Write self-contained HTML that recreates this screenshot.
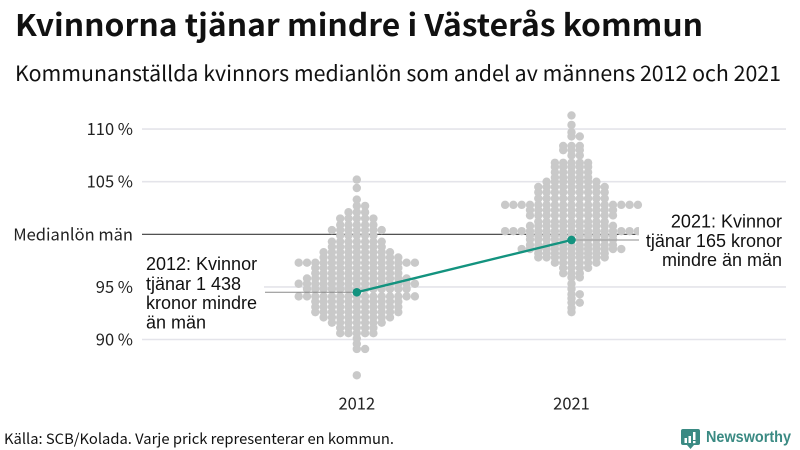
<!DOCTYPE html>
<html lang="sv">
<head>
<meta charset="utf-8">
<title>Kvinnorna tjänar mindre i Västerås kommun</title>
<style>
html,body{margin:0;padding:0;background:#fff;}
#chart{display:block;width:800px;height:450px;}
text{font-family:"Noto Sans CJK JP","Liberation Sans",sans-serif;}
text.ann{font-family:"Liberation Sans",sans-serif;font-size:18px;fill:#111;}
</style>
</head>
<body>
<svg id="chart" xmlns="http://www.w3.org/2000/svg" width="800" height="450" viewBox="0 0 800 450">
  <text x="15" y="36" font-size="30" font-weight="700" fill="#111" textLength="688" lengthAdjust="spacingAndGlyphs">Kvinnorna tjänar mindre i Västerås kommun</text>
  <text x="15" y="81" font-size="21" fill="#111" textLength="766" lengthAdjust="spacingAndGlyphs">Kommunanställda kvinnors medianlön som andel av männens 2012 och 2021</text>
  <g id="grid"></g>
  <g id="ylabels"></g>
  <g id="xlabels"></g>
  <g id="swarm"></g>
  <rect x="142" y="250" width="122" height="86" fill="#fff"/>
  <rect x="639" y="212" width="147" height="58" fill="#fff"/>
  <g id="median"></g>
  <text class="ann"><tspan x="146" y="270">2012: Kvinnor</tspan><tspan x="146" y="290">tjänar 1 438</tspan><tspan x="146" y="309">kronor mindre</tspan><tspan x="146" y="328.5">än män</tspan></text>
  <text class="ann" text-anchor="end"><tspan x="782" y="227.5">2021: Kvinnor</tspan><tspan x="782" y="247">tjänar 165 kronor</tspan><tspan x="782" y="266">mindre än män</tspan></text>
  <text x="4" y="444" font-size="14.5" fill="#111" textLength="390" lengthAdjust="spacingAndGlyphs">Källa: SCB/Kolada. Varje prick representerar en kommun.</text>
  <g>
    <path d="M683 429h15a2 2 0 0 1 2 2v12a2 2 0 0 1-2 2h-4l-3.500 4-3.500-4h-4a2 2 0 0 1-2-2v-12a2 2 0 0 1 2-2z" fill="#3a8a83"/>
    <rect x="684.500" y="438" width="2.500" height="5" fill="#fff"/>
    <rect x="688.500" y="436" width="2.500" height="7" fill="#fff"/>
    <rect x="693" y="432" width="2.500" height="8" fill="#fff"/>
    <rect x="693" y="441" width="2.500" height="2.200" fill="#fff"/>
    <text x="706" y="442" font-size="15.500" font-weight="700" fill="#3a8a83" style="font-family:'Liberation Sans',sans-serif" textLength="85" lengthAdjust="spacingAndGlyphs">Newsworthy</text>
  </g>
</svg>
<script>
var tickValues = [110, 105, 100, 95, 90];
var tickLabels = ["110 %", "105 %", "Medianlön män", "95 %", "90 %"];
var categories = ["2012", "2021"];
var medians = [94.49, 99.46];
var values2012 = [
  105.2, 104.4, 103.3,
  102.7, 102.7,
  102.1, 102.1, 102.1,
  101.5, 101.5, 101.5, 101.5, 101.5,
  100.9, 100.9, 100.9, 100.9, 100.9,
  100.4, 100.4, 100.4, 100.4, 100.4, 100.4, 100.4,
  99.9, 99.9, 99.9, 99.9, 99.9,
  99.3, 99.3, 99.3, 99.3, 99.3, 99.3, 99.3,
  98.8, 98.8, 98.8, 98.8, 98.8, 98.8, 98.8,
  98.3, 98.3, 98.3, 98.3, 98.3, 98.3, 98.3, 98.3, 98.3,
  97.8, 97.8, 97.8, 97.8, 97.8, 97.8, 97.8, 97.8, 97.8, 97.8,
  97.3, 97.3, 97.3, 97.3, 97.3, 97.3, 97.3, 97.3, 97.3, 97.3, 97.3, 97.3, 97.3, 97.3, 97.3,
  96.8, 96.8, 96.8, 96.8, 96.8, 96.8, 96.8, 96.8, 96.8, 96.8, 96.8,
  96.3, 96.3, 96.3, 96.3, 96.3, 96.3, 96.3, 96.3, 96.3, 96.3, 96.3,
  95.8, 95.8, 95.8, 95.8, 95.8, 95.8, 95.8, 95.8, 95.8, 95.8, 95.8, 95.8, 95.8,
  95.3, 95.3, 95.3, 95.3, 95.3, 95.3, 95.3, 95.3, 95.3, 95.3, 95.3, 95.3, 95.3, 95.3, 95.3,
  94.8, 94.8, 94.8, 94.8, 94.8, 94.8, 94.8, 94.8, 94.8, 94.8, 94.8, 94.8, 94.8,
  94.1, 94.1, 94.1, 94.1, 94.1, 94.1, 94.1, 94.1, 94.1, 94.1, 94.1, 94.1, 94.1, 94.1, 94.1,
  93.6, 93.6, 93.6, 93.6, 93.6, 93.6, 93.6, 93.6, 93.6, 93.6, 93.6,
  93.1, 93.1, 93.1, 93.1, 93.1, 93.1, 93.1, 93.1, 93.1, 93.1, 93.1,
  92.6, 92.6, 92.6, 92.6, 92.6, 92.6, 92.6, 92.6, 92.6, 92.6, 92.6,
  92.1, 92.1, 92.1, 92.1, 92.1, 92.1, 92.1, 92.1, 92.1,
  91.6, 91.6, 91.6, 91.6, 91.6, 91.6, 91.6,
  91.1, 91.1, 91.1, 91.1, 91.1,
  90.6, 90.6, 90.6, 90.6, 90.6,
  90.1, 89.6,
  89.1, 89.1,
  86.6
];
var values2021 = [
  111.3, 110.4, 109.7,
  109.3, 109.3,
  108.4, 108.4, 108.4,
  108.0, 108.0, 108.0,
  107.5, 107.5,
  106.8, 106.8, 106.8, 106.8, 106.8,
  106.4, 106.4, 106.4, 106.4, 106.4,
  105.9, 105.9, 105.9, 105.9, 105.9,
  105.4, 105.4, 105.4, 105.4, 105.4,
  105.0, 105.0, 105.0, 105.0, 105.0, 105.0, 105.0,
  104.5, 104.5, 104.5, 104.5, 104.5, 104.5, 104.5, 104.5, 104.5,
  104.0, 104.0, 104.0, 104.0, 104.0, 104.0, 104.0, 104.0, 104.0,
  103.4, 103.4, 103.4, 103.4, 103.4, 103.4, 103.4, 103.4, 103.4,
  102.8, 102.8, 102.8, 102.8, 102.8, 102.8, 102.8, 102.8, 102.8, 102.8, 102.8, 102.8, 102.8, 102.8, 102.8, 102.8, 102.8,
  102.3, 102.3, 102.3, 102.3, 102.3, 102.3, 102.3, 102.3, 102.3, 102.3, 102.3,
  101.8, 101.8, 101.8, 101.8, 101.8, 101.8, 101.8, 101.8, 101.8, 101.8, 101.8,
  101.2, 101.2, 101.2, 101.2, 101.2, 101.2, 101.2, 101.2, 101.2,
  100.8, 100.8, 100.8, 100.8, 100.8, 100.8, 100.8, 100.8, 100.8, 100.8, 100.8,
  100.3, 100.3, 100.3, 100.3, 100.3, 100.3, 100.3, 100.3, 100.3, 100.3, 100.3, 100.3, 100.3, 100.3, 100.3, 100.3, 100.3,
  99.9, 99.9, 99.9, 99.9, 99.9, 99.9, 99.9, 99.9, 99.9, 99.9, 99.9,
  99.5, 99.5, 99.5, 99.5, 99.5, 99.5, 99.5, 99.5, 99.5, 99.5, 99.5,
  99.0, 99.0, 99.0, 99.0, 99.0, 99.0, 99.0, 99.0, 99.0, 99.0, 99.0,
  98.6, 98.6, 98.6, 98.6, 98.6, 98.6, 98.6, 98.6, 98.6, 98.6, 98.6, 98.6, 98.6,
  98.2, 98.2, 98.2, 98.2, 98.2, 98.2, 98.2, 98.2, 98.2,
  97.8, 97.8, 97.8, 97.8, 97.8, 97.8, 97.8, 97.8, 97.8,
  97.3, 97.3, 97.3, 97.3, 97.3, 97.3,
  96.8, 96.8, 96.8, 96.8,
  96.3, 96.3, 96.3,
  95.9, 95.9,
  95.3, 94.8,
  94.3, 94.3,
  93.9,
  93.5, 93.5,
  93.0, 92.6
];

var SVG_NS = "http://www.w3.org/2000/svg";
var PLOT_LEFT = 142, PLOT_RIGHT = 786;
var DOT_R = 4.2, COL_STEP = 8.3, MIN_GAP = 3.4;

function yScale(v) { return 234.3 - (v - 100) * 10.52; }
function xScale(i) { return 356.8 + i * 214.7; }
function make(tag, attrs) {
  var el = document.createElementNS(SVG_NS, tag);
  for (var k in attrs) { el.setAttribute(k, attrs[k]); }
  return el;
}

var gridG = document.getElementById("grid");
var yLabelG = document.getElementById("ylabels");
tickValues.forEach(function (t, i) {
  var isBase = t === 100;
  var line = make("line", { x1: PLOT_LEFT, x2: isBase ? 640 : PLOT_RIGHT, y1: yScale(t), y2: yScale(t), stroke: isBase ? "#3a3a3a" : "#e4e4ea", "stroke-width": isBase ? 1.1 : 1.6 });
  
  
  gridG.appendChild(line);
  var label = make("text", { x: 133, y: yScale(t) + 6, "text-anchor": "end", "font-size": 16.5, fill: "#222" });
  
  
  label.textContent = tickLabels[i];
  yLabelG.appendChild(label);
});

var xLabelG = document.getElementById("xlabels");
categories.forEach(function (c, i) {
  var label = make("text", { x: xScale(i), y: 409.5, "text-anchor": "middle", "font-size": 16.5, fill: "#222" });
  
  
  label.textContent = c;
  xLabelG.appendChild(label);
});

function drawSwarm(values, catIndex) {
  var group = document.getElementById("swarm");
  var cx = xScale(catIndex);
  var lastY = {};
  values.slice().sort(function (a, b) { return b - a; }).forEach(function (v) {
    var y = yScale(v);
    var col = 0;
    for (var n = 0; n < 60; n++) {
      col = n === 0 ? 0 : (n % 2 ? (n + 1) / 2 : -n / 2);
      if (lastY[col] === undefined || y - lastY[col] >= MIN_GAP) { break; }
    }
    lastY[col] = y;
    var dot = make("circle", { cx: cx + col * COL_STEP, cy: y, r: DOT_R, fill: "#c9c9c9" });
    
    
    group.appendChild(dot);
  });
}
drawSwarm(values2012, 0);
drawSwarm(values2021, 1);

var medianG = document.getElementById("median");
var leader0 = make("line", { x1: 265, x2: xScale(0), y1: yScale(medians[0]), y2: yScale(medians[0]), stroke: "#8a8a8a", "stroke-width": 1 });


medianG.appendChild(leader0);
var leader1 = make("line", { x1: xScale(1), x2: 639, y1: yScale(medians[1]), y2: yScale(medians[1]), stroke: "#a5a5a5", "stroke-width": 1.3 });


medianG.appendChild(leader1);
var medianLine = make("line", { x1: xScale(0), y1: yScale(medians[0]), x2: xScale(1), y2: yScale(medians[1]), stroke: "#13937f", "stroke-width": 2.4 });


medianG.appendChild(medianLine);
medians.forEach(function (m, i) {
  var pt = make("circle", { cx: xScale(i), cy: yScale(m), r: 4.3, fill: "#13937f" });
  
  
  medianG.appendChild(pt);
});
</script>
</body>
</html>
